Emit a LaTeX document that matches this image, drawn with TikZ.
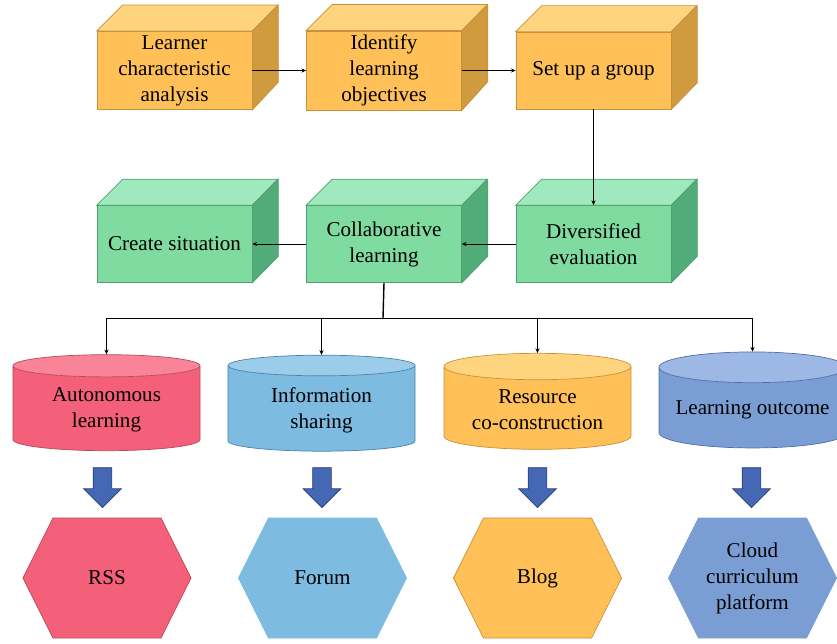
\documentclass[tikz,border=0pt]{standalone}
\usepackage{fontspec}
\setmainfont{Liberation Serif}
\usepackage{xcolor}
\usetikzlibrary{arrows.meta,positioning,calc,shapes.geometric,shapes.symbols,shapes.arrows}

\definecolor{ofront}{HTML}{FEC057}
\definecolor{otop}{HTML}{FFD47F}
\definecolor{oside}{HTML}{D09A3E}
\definecolor{oedge}{HTML}{C8903A}
\definecolor{gfront}{HTML}{80DBA0}
\definecolor{gtop}{HTML}{A0E8BE}
\definecolor{gside}{HTML}{52AC7A}
\definecolor{gedge}{HTML}{4FA06E}
\definecolor{rbody}{HTML}{F4607A}
\definecolor{rtop}{HTML}{F98498}
\definecolor{redge}{HTML}{B84A5A}
\definecolor{bbody}{HTML}{7DBBE0}
\definecolor{btop}{HTML}{9BCDEA}
\definecolor{bedge}{HTML}{4A82AA}
\definecolor{sbody}{HTML}{7A9ED4}
\definecolor{stop}{HTML}{9DB8E4}
\definecolor{sedge}{HTML}{4E6EAA}
\definecolor{arrowblue}{HTML}{4468B4}

\begin{document}
\begin{tikzpicture}[
    x=0.03cm,y=-0.03cm,
    every node/.style={font=\rmfamily\fontsize{18}{22.2}\selectfont},
    line/.style={line width=0.6pt,-{Stealth[length=4pt,width=3.5pt]}},
    cube/.style={
        draw,line width=0.6pt,
        minimum width=4.65cm,minimum height=2.31cm,align=center
    },
    orange/.style={cube,fill=ofront,draw=oedge},
    green/.style={cube,fill=gfront,draw=gedge},
    cyl/.style={
        cylinder,shape border rotate=90,shape aspect=0.19,
        cylinder uses custom fill,line width=0.6pt,draw,
        minimum width=5.61cm,minimum height=2.88cm,align=center
    },
    hexa/.style={
        signal,signal to=west and east,signal pointer angle=127,
        line width=0.6pt,draw,
        minimum width=5.04cm,minimum height=3.6cm,align=center
    },
    down/.style={
        single arrow,shape border rotate=270,fill=arrowblue,
        draw=arrowblue!60!black,line width=0.6pt,
        minimum height=1.2cm,inner sep=0.27cm,
        single arrow head extend=0.285cm,single arrow head indent=0pt
    }
]
\useasboundingbox (0,0) rectangle (837,644);

% first row: preparation
\node[orange] (learner) at (174.5,70.5) {Learner\\characteristic\\analysis};
\node[orange] (objective) at (384,70.5) {Identify\\learning\\objectives};
\node[orange] (group) at (593.5,70.5) {Set up a group};

% second row: learning activities
\node[green] (create) at (174.5,244) {Create situation};
\node[green] (collab) at (384,244) {Collaborative\\learning};
\node[green] (diverse) at (593.5,244) {Diversified\\evaluation};

% top and side faces of the boxes
\filldraw[fill=otop,draw=oedge,line width=0.6pt] (learner.north west) -- ++(26,-26) -- ++(155,0) -- (learner.north east) -- cycle;
\filldraw[fill=oside,draw=oedge,line width=0.6pt] (learner.north east) -- ++(26,-26) -- ++(0,77) -- (learner.south east) -- cycle;
\filldraw[fill=otop,draw=oedge,line width=0.6pt] (objective.north west) -- ++(26,-26) -- ++(155,0) -- (objective.north east) -- cycle;
\filldraw[fill=oside,draw=oedge,line width=0.6pt] (objective.north east) -- ++(26,-26) -- ++(0,77) -- (objective.south east) -- cycle;
\filldraw[fill=otop,draw=oedge,line width=0.6pt] (group.north west) -- ++(26,-26) -- ++(155,0) -- (group.north east) -- cycle;
\filldraw[fill=oside,draw=oedge,line width=0.6pt] (group.north east) -- ++(26,-26) -- ++(0,77) -- (group.south east) -- cycle;
\filldraw[fill=gtop,draw=gedge,line width=0.6pt] (create.north west) -- ++(26,-26) -- ++(155,0) -- (create.north east) -- cycle;
\filldraw[fill=gside,draw=gedge,line width=0.6pt] (create.north east) -- ++(26,-26) -- ++(0,77) -- (create.south east) -- cycle;
\filldraw[fill=gtop,draw=gedge,line width=0.6pt] (collab.north west) -- ++(26,-26) -- ++(155,0) -- (collab.north east) -- cycle;
\filldraw[fill=gside,draw=gedge,line width=0.6pt] (collab.north east) -- ++(26,-26) -- ++(0,77) -- (collab.south east) -- cycle;
\filldraw[fill=gtop,draw=gedge,line width=0.6pt] (diverse.north west) -- ++(26,-26) -- ++(155,0) -- (diverse.north east) -- cycle;
\filldraw[fill=gside,draw=gedge,line width=0.6pt] (diverse.north east) -- ++(26,-26) -- ++(0,77) -- (diverse.south east) -- cycle;

% third row: supporting modes
\node[cyl,cylinder body fill=rbody,cylinder end fill=rtop,draw=redge] (auto) at (106.5,410) {Autonomous\\learning};
\node[cyl,cylinder body fill=bbody,cylinder end fill=btop,draw=bedge] (share) at (321.5,410) {Information\\sharing};
\node[cyl,cylinder body fill=ofront,cylinder end fill=otop,draw=oedge] (resource) at (537.5,410) {Resource\\co-construction};
\node[cyl,cylinder body fill=sbody,cylinder end fill=stop,draw=sedge] (outcome) at (752.5,410) {Learning outcome};

% fourth row: tools
\node[down] (d1) at (102.5,483) {};
\node[down] (d2) at (322,483) {};
\node[down] (d3) at (537.5,483) {};
\node[down] (d4) at (751.5,483) {};
\node[hexa,fill=rbody,draw=redge] (rss) at (107,578) {RSS};
\node[hexa,fill=bbody,draw=bbody] (forum) at (322.5,578) {Forum};
\node[hexa,fill=ofront,draw=oedge] (blog) at (537.5,578) {Blog};
\node[hexa,fill=sbody,draw=sbody] (cloud) at (752.5,578) {Cloud\\curriculum\\platform};

% connectors
\draw[line] (learner) -- (objective);
\draw[line] (objective) -- (group);
\draw[line] (group) -- (diverse);
\draw[line] (diverse) -- (collab);
\draw[line] (collab) -- (create);
\coordinate (split) at (383,318);
\draw[line width=1.2pt] (collab.south) -- (split);
\draw[line] (split) -| (auto.north);
\draw[line] (split) -| (share.north);
\draw[line] (split) -| (resource.north);
\draw[line] (split) -| (outcome.north);
\end{tikzpicture}
\end{document}
